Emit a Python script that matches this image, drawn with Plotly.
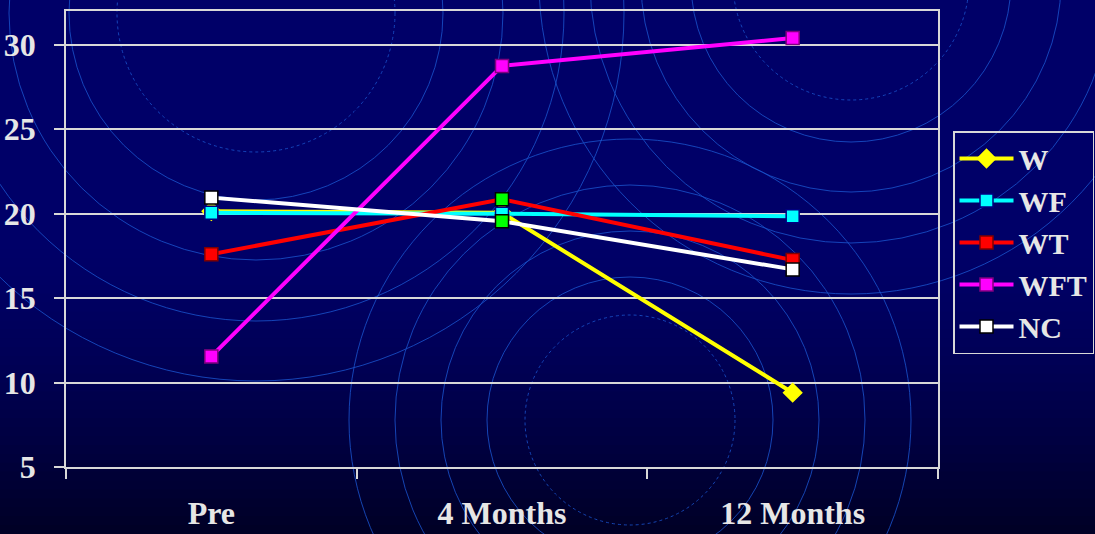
import plotly.graph_objects as go

# ---- data ----
categories = ["Pre", "4 Months", "12 Months"]
w_vals = [20.15, 20.05, 9.4]
wf_vals = [20.05, 20.0, 19.85]
wt_vals = [17.6, 20.85, 17.25]
wft_vals = [11.55, 28.75, 30.4]
nc_vals = [20.95, 19.55, 16.7]
y_ticks = [5, 10, 15, 20, 25, 30]

# ---- canvas geometry ----
W, H = 1095, 534
ML, MR, MT, MB = 66, 157, 11, 67
PW, PH = W - ML - MR, H - MT - MB


def px(x):
    return (x - ML) / PW


def py(y):
    return (H - MB - y) / PH


FONT = "Liberation Serif, Times New Roman, serif"
TEXT = "#e6e6e6"
GRID = "#d8d8d8"

shapes = []

# vertical navy gradient for the page background
n_bands = 60
for i in range(n_bands):
    t = i / (n_bands - 1)
    f = max(0.0, (t - 0.45) / 0.55)
    b = int(round(104 - 66 * f ** 1.4))
    y0 = H * i / n_bands
    y1 = H * (i + 1) / n_bands + 1
    shapes.append(dict(type="rect", xref="paper", yref="paper", layer="below",
                       x0=px(-2), x1=px(W + 2), y0=py(y1), y1=py(y0),
                       line=dict(width=0), fillcolor=f"rgb(0,0,{b})"))

# decorative concentric rings
rings = [
    ((256, 13), [139], [187, 247, 308, 368]),
    ((851, -18), [118], [160, 210, 261, 312]),
    ((630, 420), [105], [143, 189, 235, 281]),
]
RING = "rgba(25,80,200,0.85)"
for (cx, cy), dotted, solid in rings:
    for r in dotted:
        shapes.append(dict(type="circle", xref="paper", yref="paper", layer="below",
                           x0=px(cx - r), x1=px(cx + r), y0=py(cy + r), y1=py(cy - r),
                           line=dict(color=RING, width=1, dash="dot")))
    for r in solid:
        shapes.append(dict(type="circle", xref="paper", yref="paper", layer="below",
                           x0=px(cx - r), x1=px(cx + r), y0=py(cy + r), y1=py(cy - r),
                           line=dict(color=RING, width=1)))

fig = go.Figure()

series = [
    ("W", w_vals, "#ffff00", "diamond", "#ffff00", ["#ffff00"] * 3, 14),
    ("WF", wf_vals, "#00ffff", "square", "#000080", ["#00ffff"] * 3, 13),
    ("WT", wt_vals, "#ff0000", "square", "#800000", ["#ff0000", "#00ff00", "#ff0000"], 13),
    ("WFT", wft_vals, "#ff00ff", "square", "#800080", ["#ff00ff"] * 3, 13),
    ("NC", nc_vals, "#ffffff", "square", "#000000", ["#ffffff", "#00ff00", "#ffffff"], 13),
]

for name, vals, color, symbol, edge, fills, size in series:
    edges = [edge if c == fills[0] else "#000000" for c in fills]
    fig.add_trace(go.Scatter(
        x=categories, y=vals, name=name, mode="lines+markers",
        line=dict(color=color, width=4),
        marker=dict(symbol=symbol, size=size, color=fills,
                    line=dict(color=edges, width=1.5)),
    ))

fig.update_layout(
    width=W, height=H,
    margin=dict(l=ML, r=MR, t=MT, b=MB, pad=0, autoexpand=False),
    paper_bgcolor="#000066",
    plot_bgcolor="rgba(0,0,0,0)",
    shapes=shapes,
    showlegend=True,
    legend=dict(
        x=px(953), y=py(131), xanchor="left", yanchor="top",
        bgcolor="rgba(0,0,0,0)", bordercolor=GRID, borderwidth=1.5,
        font=dict(family=FONT, size=30, color=TEXT, weight="bold"),
        itemwidth=54, tracegroupgap=0,
    ),
    xaxis=dict(
        type="category", categoryorder="array", categoryarray=categories,
        range=[-0.5, 2.5], showgrid=False, tickson="boundaries",
        ticks="outside", ticklen=10, tickwidth=1.5, tickcolor=GRID,
        showline=True, linecolor=GRID, linewidth=1.5, mirror=True,
        tickfont=dict(family=FONT, size=32, color=TEXT, weight="bold"),
        ticklabelstandoff=17,
    ),
    yaxis=dict(
        range=[5, 32], tickvals=y_ticks, showgrid=True, gridcolor=GRID, gridwidth=1.5,
        zeroline=False, ticks="outside", ticklen=10, tickwidth=1.5, tickcolor=GRID,
        showline=True, linecolor=GRID, linewidth=1.5, mirror=True,
        tickfont=dict(family=FONT, size=32, color=TEXT, weight="bold"),
        ticklabelstandoff=12,
    ),
)

fig.write_html("out.html")
